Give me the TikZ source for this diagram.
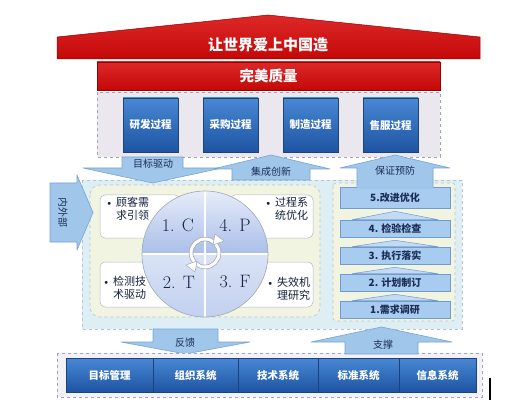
\documentclass[tikz,border=0pt]{standalone}
\usepackage{fontspec}
\newfontfamily\cjk{Noto Sans CJK SC}
\usetikzlibrary{arrows.meta}
\definecolor{qred}{RGB}{196,8,8}
\definecolor{qredl}{RGB}{222,40,40}
\definecolor{qredd}{RGB}{150,0,0}
\definecolor{qblue}{RGB}{72,136,212}
\definecolor{qblued}{RGB}{30,84,162}
\definecolor{qedge}{RGB}{28,66,124}
\definecolor{qarr}{RGB}{160,198,234}
\definecolor{qarre}{RGB}{118,164,214}
\definecolor{qink}{RGB}{28,46,86}
\definecolor{qlav}{RGB}{234,231,239}
\definecolor{qcyan}{RGB}{221,239,245}
\definecolor{qcream}{RGB}{241,244,224}
\definecolor{qstep}{RGB}{168,204,240}
\definecolor{qstepe}{RGB}{112,154,208}
\definecolor{qgray}{RGB}{158,168,180}
\definecolor{qquadl}{RGB}{230,236,249}
\definecolor{qquadd}{RGB}{170,190,232}
\newcommand\qdot{{\normalfont\textbullet}\hspace{2.5pt}}
\tikzset{
  ttl/.style={font=\cjk\bfseries\fontsize{15}{17}\selectfont, text=white, inner sep=0pt},
  redbar/.style={
    draw=qredd, line width=0.5pt, top color=qredl, bottom color=qred,
    text=white, font=\cjk\bfseries\fontsize{14.5}{17}\selectfont, inner sep=0pt
  },
  grp/.style={draw=qgray, dashed, line width=0.6pt},
  proc/.style={
    draw=qedge, line width=0.6pt, top color=qblue, bottom color=qblued,
    text=white, font=\cjk\bfseries\fontsize{10.5}{12}\selectfont, inner sep=0pt
  },
  blk/.style={draw=qarre, fill=qarr, line width=0.6pt, line join=round},
  lbl/.style={font=\cjk\fontsize{10}{12}\selectfont, text=qink, inner sep=0pt},
  note/.style={draw=qgray!80, fill=white, rounded corners=5pt, line width=0.5pt},
  bul/.style={
    font=\cjk\fontsize{11}{13}\selectfont, text=qink!70!black,
    align=left, anchor=north west, inner sep=0pt
  },
  quad/.style={font=\fontsize{18}{20}\selectfont, text=qink!80!black, inner sep=0pt},
  stepbx/.style={
    draw=qstepe, fill=qstep, line width=0.6pt, text=qink,
    font=\cjk\bfseries\fontsize{10}{12}\selectfont, inner sep=0pt,
    minimum width=110, minimum height=17
  },
  chev/.style={draw=qstepe, fill=qstep!70!white, line width=0.5pt, line join=round},
  sys/.style={proc, minimum height=34}
}
\begin{document}
\begin{tikzpicture}[x=1pt,y=-1pt]
  \useasboundingbox (0,0) rectangle (527,414);
  % roof and goal
  \shade[top color=qredl, bottom color=qred, draw=qredd, line width=0.5pt]
    (57,59) -- (57,37) -- (268,15) -- (480,37) -- (480,59) -- cycle;
  \node[ttl] (roof) at (268,45) {让世界爱上中国造};
  \node[redbar, minimum width=343, minimum height=28] (goal) at (268.5,76) {完美质量};
  % processes
  \draw[grp, fill=qlav] (97,92) rectangle (440,157);
  \foreach \t [count=\i] in {研发过程,采购过程,制造过程,售服过程}
    \node[proc, minimum width=55, minimum height=54] (p\i) at (70.5+80*\i,125) {\t};
  % middle field
  \draw[grp, draw=qgray!70, fill=qcyan] (82,180) rectangle (462,329);
  \draw[grp, draw=qgray!70, fill=qcream, rounded corners=10pt] (90,185) rectangle (320,317);
  \draw[grp, draw=qgray!70, fill=qcream, rounded corners=3pt] (333,183) rectangle (455,321);
  \draw[note] (100,195) rectangle (180,238);
  \draw[note] (230,195) rectangle (313,238);
  \draw[note] (100,262) rectangle (180,307);
  \draw[note] (230,262) rectangle (313,307);
  \node[bul] (n1) at (105,197) {\qdot 顾客需\\\phantom{\qdot}求引领};
  \node[bul] (n4) at (264,197) {\qdot 过程系\\\phantom{\qdot}统优化};
  \node[bul] (n2) at (102,276) {\qdot 检测技\\\phantom{\qdot}术驱动};
  \node[bul] (n3) at (266,277) {\qdot 失效机\\\phantom{\qdot}理研究};
  % wheel
  \begin{scope}
    \clip (205,254) circle[radius=63];
    \shade[top color=qquadl, bottom color=qquadd] (142,191) rectangle (268,254);
    \shade[top color=qquadl!80!qquadd, bottom color=qquadl!40!qquadd] (142,254) rectangle (268,317);
  \end{scope}
  \draw[qgray!80, double=white, double distance=1.6pt, line width=0.4pt]
    (205,191) -- (205,317) (142,254) -- (268,254);
  \draw[qgray, line width=0.6pt] (205,254) circle[radius=63];
  \node[quad] (qc) at (178,225) {1. C};
  \node[quad] (qp) at (235,225) {4. P};
  \node[quad] (qt) at (179,282) {2. T};
  \node[quad] (qf) at (235,282) {3. F};
  \draw[qgray, line width=4.4pt] (205,253) circle[radius=14];
  \draw[white, line width=3pt] (205,253) circle[radius=14];
  \fill[white, draw=qgray, line width=0.5pt] (215,234) -- (224,241) -- (213,245) -- cycle;
  \fill[white, draw=qgray, line width=0.5pt] (195,272) -- (186,265) -- (197,261) -- cycle;
  % steps
  \node[stepbx, minimum height=21] (s5) at (395,197.5) {5.改进优化};
  \foreach \t/\y [count=\i] in {1.需求调研/309.5, 2. 计划制订/282.5, 3. 执行落实/255.5, 4. 检验检查/228.5}
    \node[stepbx] (s\i) at (395,\y) {\t};
  \foreach \i/\j in {1/2,2/3,3/4,4/5}
    \draw[chev] ([xshift=-43pt]s\i.north) -- ([yshift=-3pt]s\j.south)
      -- ([xshift=43pt]s\i.north) -- cycle;
  % arrows
  \draw[blk] (122,157) -- (183,157) -- (183,168) -- (222,168) -- (152.5,183)
    -- (83,168) -- (122,168) -- cycle;
  \node[lbl] (drive) at (153,164) {目标驱动};
  \draw[blk] (232,180) -- (232,169) -- (213,169) -- (271,155) -- (330,169)
    -- (310,169) -- (310,180) -- cycle;
  \node[lbl] (integ) at (271,172) {集成创新};
  \draw[blk] (357,188) -- (357,168) -- (340,168) -- (395,155) -- (450,168)
    -- (433,168) -- (433,188);
  \fill[qarr] (357.3,186) rectangle (432.7,189);
  \node[lbl] (assure) at (395,171) {保证预防};
  \draw[blk] (50,183) -- (77,183) -- (77,175) -- (93,212.5) -- (77,250)
    -- (77,242) -- (50,242) -- cycle;
  \node[lbl, rotate=-90] (inout) at (63,212.5) {内外部};
  \draw[blk] (153,329) -- (218,329) -- (218,342) -- (250,342) -- (185.5,354)
    -- (121,342) -- (153,342) -- cycle;
  \node[lbl] (feedb) at (185,343) {反馈};
  % systems
  \draw[grp, fill=qlav!60!white] (57,353) rectangle (482,397);
  \draw[blk] (345,354) -- (345,342) -- (311,342) -- (381.5,327) -- (452,342)
    -- (418,342) -- (418,354) -- cycle;
  \node[lbl] (supp) at (383,345) {支撑};
  \foreach \a/\b/\t [count=\i] in {66/153/目标管理,153/238/组织系统,238/318/技术系统,318/399/标准系统,399/476/信息系统}
    \node[sys, minimum width=\b-\a] (sys\i) at ({(\a+\b)/2},375) {\t};
  \draw[black, line width=2.2pt] (490,378) -- (490,400);
\end{tikzpicture}
\end{document}
